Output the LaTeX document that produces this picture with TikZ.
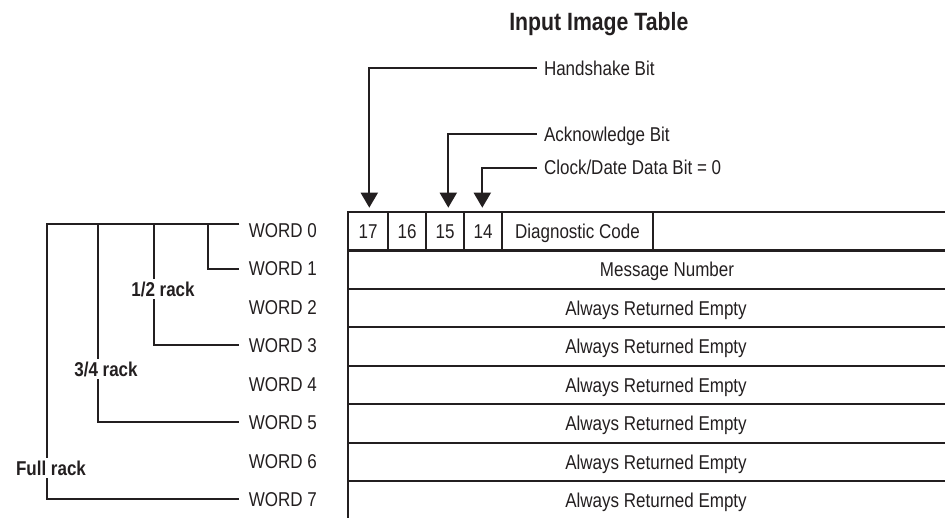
\documentclass[tikz,border=0pt]{standalone}
\usepackage{fontspec}
\setmainfont{Liberation Sans}[FakeStretch=0.85]
\usetikzlibrary{arrows.meta}
\definecolor{ink}{RGB}{35,31,32}
\begin{document}
\begin{tikzpicture}[x=1pt,y=-1pt,
  ln/.style={draw=ink,line width=2pt,line join=miter},
  tbl/.style={draw=ink,line width=2.2pt},
  arr/.style={ln,-{Triangle[width=17pt,length=15pt]},shorten >=4.3pt},
  reg/.style={font=\fontsize{20}{24}\selectfont,text=ink,inner sep=0pt,outer sep=0pt,text height=14.3pt,text depth=0pt},
  cellbox/.style={reg,draw=ink,line width=2.2pt,minimum height=38.45pt},
  wordlbl/.style={reg,anchor=west},
  rowtxt/.style={reg},
  toplbl/.style={reg,anchor=west},
  racklbl/.style={font=\fontsize{20}{24}\selectfont\bfseries,text=ink,fill=white,inner xsep=0.5pt,inner ysep=3pt,text height=14.3pt,text depth=0pt},
  titlelbl/.style={font=\fontsize{25}{30}\selectfont\bfseries,text=ink,inner sep=0pt,text height=17.9pt,text depth=0pt}]
\useasboundingbox (0,0) rectangle (945,518);
\node[titlelbl] (ttl) at (598.8,22) {Input Image Table};
% table outline
\draw[tbl] (348,519.6) -- (348,212) -- (945,212);
\foreach \y in {250.45,288.9,327.35,365.8,404.25,442.7,481.15}
  \draw[tbl] (348,\y) -- (945,\y);
% bit cells
\node[cellbox,minimum width=40pt] (c17) at (368,231.2) {17};
\node[cellbox,minimum width=38pt] (c16) at (407,231.2) {16};
\node[cellbox,minimum width=38pt] (c15) at (445,231.2) {15};
\node[cellbox,minimum width=38pt] (c14) at (483,231.2) {14};
\node[cellbox,minimum width=151pt] (cdg) at (577.5,231.2) {Diagnostic Code};
% row texts
\node[rowtxt] (r1) at (667,269.7) {Message Number};
\foreach \i/\y in {2/308.1,3/346.6,4/385.0,5/423.5,6/461.9,7/500.4}
  \node[rowtxt] (r\i) at (656,\y) {Always Returned Empty};
% word labels
\foreach \i/\y in {0/230.2,1/268.6,2/307.1,3/345.5,4/384.0,5/422.4,6/460.9,7/499.3}
  \node[wordlbl] (w\i) at (248.8,\y) {WORD \i};
% rack brackets
\coordinate (top) at ([xshift=-9.5pt,yshift=6.2pt]w0.west);
\draw[ln] (top) -- ++(-192.6,0) |- ([xshift=-9.5pt]w7.west);
\draw[ln] ([xshift=-141.6pt]top) |- ([xshift=-9.5pt]w5.west);
\draw[ln] ([xshift=-85.3pt]top) |- ([xshift=-9.5pt]w3.west);
\draw[ln] ([xshift=-31.6pt]top) |- ([xshift=-9.5pt]w1.west);
\node[racklbl] (half) at (163,289) {1/2 rack};
\node[racklbl] (tq) at (106,369) {3/4 rack};
\node[racklbl] (full) at (51,468) {Full rack};
% bit labels and arrows
\node[toplbl] (hs) at (544,68.3) {Handshake Bit};
\node[toplbl] (ack) at (544,134.3) {Acknowledge Bit};
\node[toplbl] (clk) at (544,167.7) {Clock/Date Data Bit = 0};
\draw[arr] ([xshift=-7.3pt]hs.west) -| ([xshift=1.3pt]c17.north);
\draw[arr] ([xshift=-7.3pt]ack.west) -| ([xshift=3.3pt]c15.north);
\draw[arr] ([xshift=-7.3pt]clk.west) -| ([xshift=-0.7pt]c14.north);
\end{tikzpicture}
\end{document}
